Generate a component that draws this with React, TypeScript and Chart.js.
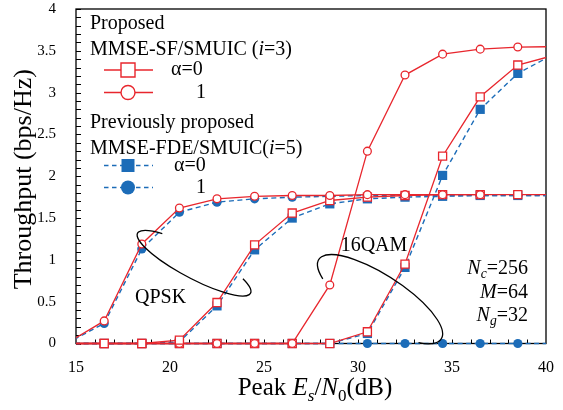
import React, { useEffect, useRef } from 'react';
import { Chart, registerables } from 'chart.js';

Chart.register(...registerables);

// ---------- data ----------
const xValues = [14.5, 16.5, 18.5, 20.5, 22.5, 24.5, 26.5, 28.5, 30.5, 32.5, 34.5, 36.5, 38.5, 40.5];
const propQpskA0 = [0, 0, 0, 0.04, 0.49, 1.18, 1.56, 1.71, 1.75, 1.77, 1.78, 1.78, 1.78, 1.78];
const propQpskA1 = [0, 0.27, 1.19, 1.62, 1.73, 1.76, 1.77, 1.77, 1.78, 1.78, 1.78, 1.78, null, null];
const prop16A0 = [0, 0, 0, 0, 0, 0, 0, 0, 0.14, 0.95, 2.24, 2.95, 3.33, 3.45];
const prop16A1 = [0, 0, 0, 0, 0, 0, 0, 0.7, 2.3, 3.21, 3.46, 3.52, 3.545, 3.55];
const prevQpskA0 = [0, 0, 0, 0.02, 0.45, 1.12, 1.5, 1.67, 1.73, 1.75, 1.76, 1.77, 1.77, 1.77];
const prevQpskA1 = [0, 0.24, 1.13, 1.57, 1.69, 1.73, 1.75, 1.76, 1.77, 1.77, 1.77, 1.77, 1.77, 1.77];
const prev16A0 = [0, 0, 0, 0, 0, 0, 0, 0, 0.12, 0.91, 2.01, 2.8, 3.23, 3.47];
const prev16A1 = [0, 0, 0, 0, 0, 0, 0, 0, 0, 0, 0, 0, 0, 0];

const xMin = 15;
const xMax = 40;
const xStep = 5;
const yMin = 0;
const yMax = 4;
const yStep = 0.5;

const xTitle = [
  { t: 'Peak ' },
  { t: 'E', it: true },
  { t: 's', it: true, sub: true },
  { t: '/' },
  { t: 'N', it: true },
  { t: '0', sub: true },
  { t: '(dB)' },
];
const yTitle = 'Throughput (bps/Hz)';

// annotation anchors (data units)
const qpskEllipse = { x: 21.28, y: 0.96 };
const qamEllipse = { x: 31.17, y: 0.53 };
const qpskLabel = { x: 19.5, y: 0.55, text: 'QPSK' };
const qamLabel = { x: 30.85, y: 1.17, text: '16QAM' };

// ---------- styles ----------
const RED = '#e8262d';
const BLUE = '#1c6cb8';
const FONT = "'Liberation Serif', 'Times New Roman', serif";

type Seg = { t: string; it?: boolean; sub?: boolean };

function drawRich(ctx: CanvasRenderingContext2D, segs: Seg[], x: number, y: number, size: number, align: 'left' | 'center' | 'right') {
  const subSize = size * 0.68;
  const fontOf = (s: Seg) => `${s.it ? 'italic ' : ''}${s.sub ? subSize : size}px ${FONT}`;
  let total = 0;
  const widths = segs.map((s) => {
    ctx.font = fontOf(s);
    const w = ctx.measureText(s.t).width;
    total += w;
    return w;
  });
  let cx = align === 'left' ? x : align === 'center' ? x - total / 2 : x - total;
  ctx.textAlign = 'left';
  ctx.textBaseline = 'alphabetic';
  ctx.fillStyle = '#000';
  segs.forEach((s, i) => {
    ctx.font = fontOf(s);
    ctx.fillText(s.t, cx, y + (s.sub ? size * 0.22 : 0));
    cx += widths[i];
  });
}

function mkData(vals: (number | null)[]) {
  return xValues.map((x, i) => ({ x, y: vals[i] }));
}

const clip = { left: 0, right: 0, top: false, bottom: false } as any;

function redSet(label: string, vals: (number | null)[], style: 'rect' | 'circle') {
  return {
    label,
    data: mkData(vals),
    borderColor: RED,
    borderWidth: 1.3,
    pointStyle: style,
    pointRadius: style === 'rect' ? 5.7 : 3.9,
    pointBackgroundColor: '#ffffff',
    pointBorderColor: RED,
    pointBorderWidth: 1.3,
    fill: false,
    tension: 0,
    clip,
  };
}

function blueSet(label: string, vals: (number | null)[], style: 'rect' | 'circle') {
  return {
    label,
    data: mkData(vals),
    borderColor: BLUE,
    borderWidth: 1.4,
    borderDash: [5, 3.5],
    pointStyle: style,
    pointRadius: style === 'rect' ? 6.5 : 4.6,
    pointBackgroundColor: BLUE,
    pointBorderColor: BLUE,
    pointBorderWidth: 0,
    fill: false,
    tension: 0,
    clip,
  };
}

const framePlugin = {
  id: 'frame',
  beforeDatasetsDraw(chart: any) {
    const { ctx, chartArea: a, scales } = chart;
    const xs = scales.x;
    const ys = scales.y;
    ctx.save();
    ctx.strokeStyle = '#000';
    ctx.lineWidth = 1.3;
    ctx.strokeRect(a.left, a.top, a.right - a.left, a.bottom - a.top);
    ctx.lineWidth = 1;
    ctx.beginPath();
    for (let k = 0; k <= 40; k++) {
      const py = Math.round(ys.getPixelForValue(k / 10)) + 0.5;
      ctx.moveTo(a.left, py);
      ctx.lineTo(a.left + 5, py);
    }
    for (let k = 1; k < 25; k++) {
      const px = Math.round(xs.getPixelForValue(xMin + k)) + 0.5;
      ctx.moveTo(px, a.bottom);
      ctx.lineTo(px, a.bottom - 4);
    }
    ctx.stroke();
    ctx.restore();
  },
  afterDraw(chart: any) {
    const { ctx, chartArea: a, scales } = chart;
    const xs = scales.x;
    const ys = scales.y;
    ctx.save();

    // axis titles
    drawRich(ctx, xTitle, (a.left + a.right) / 2 + 4, 395, 25, 'center');
    ctx.save();
    ctx.translate(24, (a.top + a.bottom) / 2 + 3);
    ctx.rotate(-Math.PI / 2);
    ctx.font = `26px ${FONT}`;
    ctx.fillStyle = '#000';
    ctx.textAlign = 'center';
    ctx.textBaseline = 'middle';
    ctx.fillText(yTitle, 0, 0);
    ctx.restore();

    // ellipses
    ctx.strokeStyle = '#000';
    ctx.lineWidth = 1.3;
    const deg = Math.PI / 180;
    ctx.beginPath();
    ctx.ellipse(xs.getPixelForValue(qpskEllipse.x), ys.getPixelForValue(qpskEllipse.y), 64, 15, 28 * deg, -38 * deg, 229 * deg, false);
    ctx.stroke();
    ctx.beginPath();
    ctx.ellipse(xs.getPixelForValue(qamEllipse.x), ys.getPixelForValue(qamEllipse.y), 73, 24, 33 * deg, 144 * deg, 400 * deg, false);
    ctx.stroke();

    // labels
    ctx.fillStyle = '#000';
    ctx.font = `20px ${FONT}`;
    ctx.textAlign = 'center';
    ctx.textBaseline = 'middle';
    ctx.fillText(qpskLabel.text, xs.getPixelForValue(qpskLabel.x), ys.getPixelForValue(qpskLabel.y));
    ctx.fillText(qamLabel.text, xs.getPixelForValue(qamLabel.x), ys.getPixelForValue(qamLabel.y));

    // parameters
    const pr = a.right - 18;
    drawRich(ctx, [{ t: 'N', it: true }, { t: 'c', it: true, sub: true }, { t: '=256' }], pr, a.top + 265, 20, 'right');
    drawRich(ctx, [{ t: 'M', it: true }, { t: '=64' }], pr, a.top + 289, 20, 'right');
    drawRich(ctx, [{ t: 'N', it: true }, { t: 'g', it: true, sub: true }, { t: '=32' }], pr, a.top + 312, 20, 'right');

    // legend
    const L = a.left;
    const T = a.top;
    drawRich(ctx, [{ t: 'Proposed' }], L + 14, T + 20, 20, 'left');
    drawRich(ctx, [{ t: 'MMSE-SF/SMUIC (' }, { t: 'i', it: true }, { t: '=3)' }], L + 14, T + 46, 20, 'left');
    drawRich(ctx, [{ t: 'Previously proposed' }], L + 14, T + 119, 20, 'left');
    drawRich(ctx, [{ t: 'MMSE-FDE/SMUIC(' }, { t: 'i', it: true }, { t: '=5)' }], L + 14, T + 145, 20, 'left');

    const rows = [
      { y: T + 61, color: RED, dash: [] as number[], shape: 'rect', filled: false, text: 'α=0', tx: L + 95, align: 'left' },
      { y: T + 83.5, color: RED, dash: [] as number[], shape: 'circle', filled: false, text: '1', tx: L + 130, align: 'right' },
      { y: T + 156.5, color: BLUE, dash: [4.5, 3.5], shape: 'rect', filled: true, text: 'α=0', tx: L + 98, align: 'left' },
      { y: T + 178.5, color: BLUE, dash: [4.5, 3.5], shape: 'circle', filled: true, text: '1', tx: L + 130, align: 'right' },
    ];
    rows.forEach((r) => {
      ctx.save();
      ctx.strokeStyle = r.color;
      ctx.lineWidth = r.filled ? 1.4 : 1.6;
      ctx.setLineDash(r.dash);
      ctx.beginPath();
      ctx.moveTo(L + 28, r.y);
      ctx.lineTo(L + 77, r.y);
      ctx.stroke();
      ctx.setLineDash([]);
      const cx = L + 52;
      ctx.beginPath();
      if (r.shape === 'rect') {
        const s = r.filled ? 13 : 14;
        ctx.rect(cx - s / 2, r.y - s / 2, s, s);
      } else {
        ctx.arc(cx, r.y, 7, 0, Math.PI * 2);
      }
      ctx.fillStyle = r.filled ? r.color : '#ffffff';
      ctx.fill();
      if (!r.filled) {
        ctx.lineWidth = 1.4;
        ctx.stroke();
      }
      ctx.restore();
      ctx.fillStyle = '#000';
      ctx.font = `20px ${FONT}`;
      ctx.textAlign = r.align as CanvasTextAlign;
      ctx.textBaseline = 'middle';
      ctx.fillText(r.text, r.tx, r.y);
    });

    ctx.restore();
  },
};

export default function App() {
  const ref = useRef<HTMLCanvasElement | null>(null);
  useEffect(() => {
    if (!ref.current) return;
    const tickFont = { family: FONT, size: 16 };
    const chart = new Chart(ref.current, {
      type: 'line',
      data: {
        datasets: [
          redSet('QPSK proposed α=1', propQpskA1, 'circle'),
          redSet('QPSK proposed α=0', propQpskA0, 'rect'),
          redSet('16QAM proposed α=1', prop16A1, 'circle'),
          redSet('16QAM proposed α=0', prop16A0, 'rect'),
          blueSet('QPSK previous α=1', prevQpskA1, 'circle'),
          blueSet('QPSK previous α=0', prevQpskA0, 'rect'),
          blueSet('16QAM previous α=1', prev16A1, 'circle'),
          blueSet('16QAM previous α=0', prev16A0, 'rect'),
        ] as any,
      },
      options: {
        animation: false,
        responsive: false,
        devicePixelRatio: 1,
        layout: { padding: { top: 9, right: 17, left: 0, bottom: 0 } },
        plugins: { legend: { display: false }, tooltip: { enabled: false } },
        scales: {
          x: {
            type: 'linear',
            min: xMin,
            max: xMax,
            ticks: { stepSize: xStep, font: tickFont, color: '#000', padding: 15, maxRotation: 0 },
            grid: { display: false, drawTicks: false, tickLength: 0 },
            border: { display: false },
            afterFit: (s: any) => {
              s.height = 66.5;
              s.paddingLeft = 0;
              s.paddingRight = 0;
            },
          },
          y: {
            type: 'linear',
            min: yMin,
            max: yMax,
            ticks: {
              stepSize: yStep,
              font: { family: FONT, size: 15 },
              color: '#000',
              padding: 20,
              callback: (v: any) => String(Number(v)),
            },
            grid: { display: false, drawTicks: false, tickLength: 0 },
            border: { display: false },
            afterFit: (s: any) => {
              s.width = 76;
              s.paddingTop = 0;
              s.paddingBottom = 0;
            },
          },
        },
      } as any,
      plugins: [framePlugin],
    });
    return () => chart.destroy();
  }, []);
  return (
    <div style={{ position: 'absolute', left: 0, top: 0, width: 563, height: 410, background: '#fff' }}>
      <canvas ref={ref} width={563} height={410} style={{ display: 'block' }} />
    </div>
  );
}
